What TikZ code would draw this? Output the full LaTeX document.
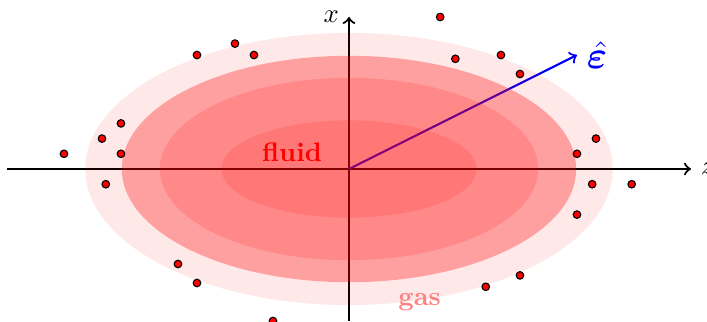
\documentclass[tikz,border=0pt]{standalone}
\usepackage{amsmath,amssymb}
\usepackage{bm}
\usetikzlibrary{positioning}

\begin{document}
\begin{tikzpicture}[
      axis/.style={->, thick},
      field/.style={->, thick, draw=blue},
      cloud/.style={fill=red, draw=none},
      atom/.style={
          circle, draw=black, fill=red,
          line width=0.4pt, minimum size=0.1cm,
          inner sep=0pt
      },
      phase/.style={font=\bfseries}
  ]
  \useasboundingbox (-4.592,-2.013) rectangle (4.711,2.224);

  % axes and field direction
  \coordinate (O)  at (0,0);
  \coordinate (zL) at (-4.5,0);
  \coordinate (zR) at (4.5,0);
  \coordinate (xB) at (0,-2);
  \coordinate (xT) at (0,2);
  \coordinate (E)  at (3,1.5);
  \draw[axis] (zL) -- (zR) node[right] (zlab) {$z$};
  \draw[axis] (xB) -- (xT) node[left] (xlab) {$x$};
  \draw[field] (O) -- (E) node[right, text=blue, font=\Large] (elab) {$\hat{\bm{\varepsilon}}$};

  % density layers of the cloud
  \fill[cloud, fill opacity=0.09] (O) ellipse [x radius=3.47, y radius=1.79];
  \fill[cloud, fill opacity=0.31] (O) ellipse [x radius=2.99, y radius=1.49];
  \fill[cloud, fill opacity=0.15] (O) ellipse [x radius=2.49, y radius=1.2];
  \fill[cloud, fill opacity=0.12] (O) ellipse [x radius=1.68, y radius=0.64];

  % gas atoms
  \foreach \x/\y [count=\i] in {
      -2/1.5, -1.5/1.65, -1.25/1.5, -3/0.6, -3.25/0.4, -3.75/0.2,
      -3/0.2, -3.2/-0.2, -2.25/-1.25, -2/-1.5, -1/-2,
      1.2/2, 1.4/1.45, 2/1.5, 2.25/1.25, 3.25/0.4, 3/0.2,
      3.2/-0.2, 3.72/-0.2, 3/-0.6, 2.25/-1.4, 1.8/-1.55}{
      \node[atom] (a\i) at (\x,\y) {};
  }

  \node[phase, text=red] (fluid) at (-0.75,0.22) {fluid};
  \node[phase, text=red!50] (gas) at (0.93,-1.75) {gas};
\end{tikzpicture}
\end{document}
